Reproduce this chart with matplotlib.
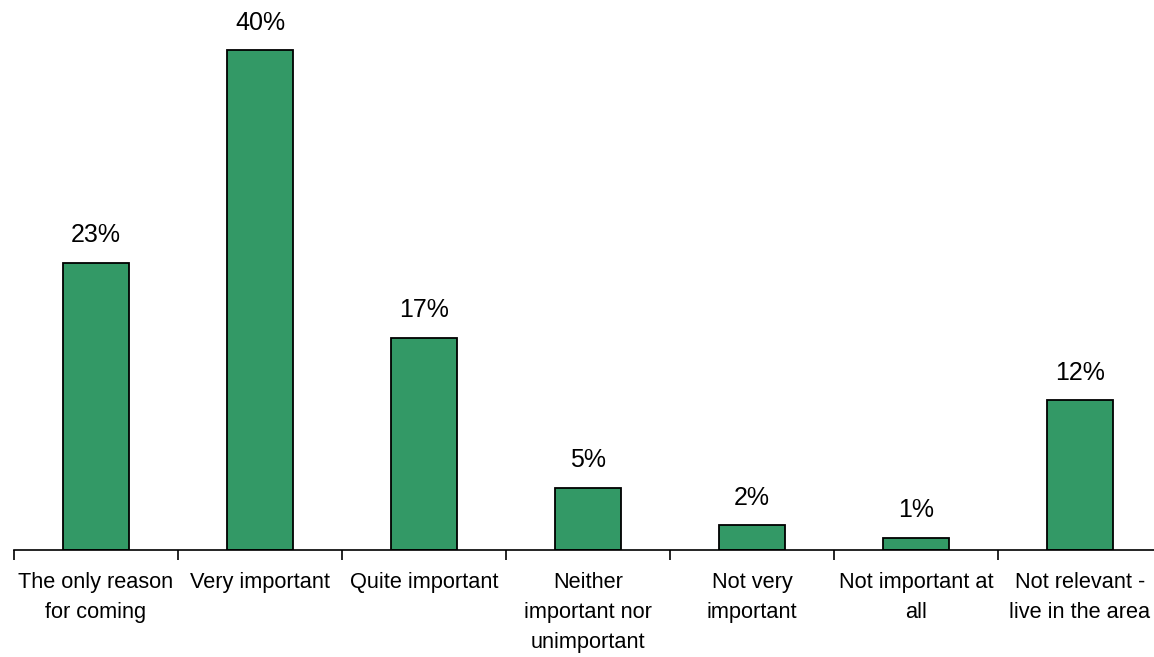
import matplotlib.pyplot as plt
import numpy as np

categories = ['The only reason\nfor coming', 'Very important', 'Quite important',
              'Neither\nimportant nor\nunimportant', 'Not very\nimportant',
              'Not important at\nall', 'Not relevant -\nlive in the area']
values = [23, 40, 17, 5, 2, 1, 12]

plt.rcParams['font.family'] = ['Liberation Sans', 'DejaVu Sans']

fig = plt.figure(figsize=(11.54, 6.57), dpi=100)
ax = fig.add_axes([14 / 1154, 107 / 657, 1148 / 1154, 550 / 657])

x = np.arange(len(categories))
bars = ax.bar(x, values, width=0.4, color='#339966', edgecolor='black', linewidth=1.3)

# value labels above bars
for b, v in zip(bars, values):
    ax.annotate(f'{v}%', (b.get_x() + b.get_width() / 2, v), xytext=(0, 11),
                textcoords='offset points', ha='center', va='bottom', fontsize=18)

ax.set_xlim(-0.5, len(categories) - 0.5)
ax.set_ylim(0, 44)
ax.set_xticks(x)
ax.set_xticklabels(categories, fontsize=15.7, linespacing=1.55)
ax.set_xticks(np.arange(-0.5, len(categories), 1), minor=True)
ax.tick_params(axis='x', which='major', length=0, pad=16)
ax.tick_params(axis='x', which='minor', length=7, width=1.2, direction='out')
ax.set_yticks([])
for s in ['top', 'right', 'left']:
    ax.spines[s].set_visible(False)
ax.spines['bottom'].set_linewidth(1.2)

fig.savefig('out.png', dpi=100)
